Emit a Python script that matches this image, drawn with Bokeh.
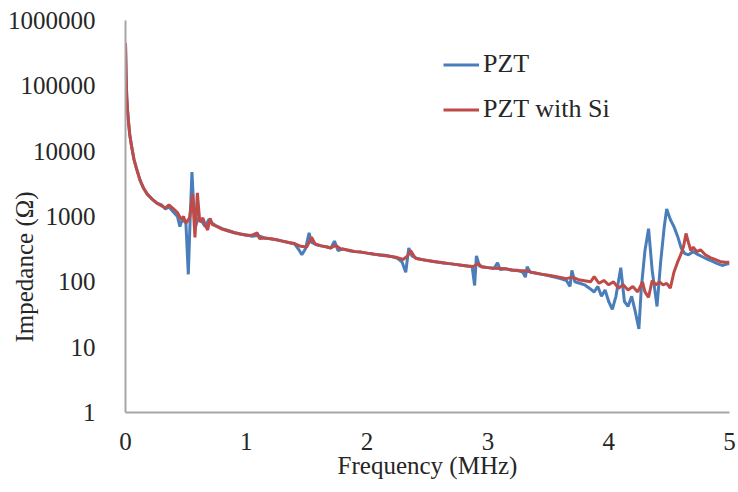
from bokeh.plotting import figure
from bokeh.models import FixedTicker, PrintfTickFormatter, Range1d, Legend, LegendItem, Title
from bokeh.embed import file_html
from bokeh.resources import INLINE

# Frequency (MHz) and impedance (ohm)
pzt_freq = [0.000, 0.005, 0.010, 0.018, 0.025, 0.035, 0.05, 0.07, 0.09, 0.12, 0.15, 0.18,
            0.22, 0.26, 0.30, 0.33, 0.36, 0.40, 0.43, 0.45, 0.47, 0.50, 0.52, 0.535, 0.55,
            0.565, 0.58, 0.60, 0.63, 0.66, 0.69, 0.72, 0.75, 0.80, 0.85, 0.90, 0.95, 1.00,
            1.05, 1.10, 1.15, 1.20, 1.25, 1.30, 1.35, 1.40, 1.44, 1.46, 1.49, 1.52, 1.54,
            1.58, 1.62, 1.66, 1.70, 1.73, 1.76, 1.80, 1.85, 1.90, 1.95, 2.00, 2.05, 2.10,
            2.15, 2.20, 2.25, 2.29, 2.32, 2.345, 2.37, 2.42, 2.48, 2.55, 2.62, 2.68, 2.73,
            2.78, 2.83, 2.87, 2.89, 2.905, 2.93, 2.96, 3.00, 3.05, 3.08, 3.10, 3.15, 3.20,
            3.25, 3.29, 3.31, 3.325, 3.35, 3.40, 3.45, 3.50, 3.55, 3.60, 3.65, 3.68, 3.695,
            3.72, 3.76, 3.80, 3.84, 3.88, 3.91, 3.94, 3.97, 4.00, 4.03, 4.06, 4.10, 4.13,
            4.16, 4.19, 4.22, 4.25, 4.27, 4.30, 4.33, 4.36, 4.40, 4.43, 4.46, 4.48, 4.51,
            4.54, 4.57, 4.60, 4.63, 4.66, 4.70, 4.74, 4.78, 4.82, 4.86, 4.90, 4.94, 4.97, 5.00]
pzt_imp = [450000, 150000, 70000, 40000, 28000, 18000, 12000, 7500, 5500, 3600, 2700, 2200,
           1850, 1600, 1500, 1300, 1400, 1150, 1000, 700, 900, 800, 130, 900, 4800,
           1400, 700, 950, 850, 700, 900, 780, 720, 650, 610, 570, 540, 520,
           500, 510, 470, 455, 440, 420, 400, 380, 300, 260, 320, 560, 400,
           370, 355, 345, 330, 420, 300, 320, 300, 290, 285, 275, 265, 260,
           255, 245, 230, 200, 140, 330, 250, 225, 215, 205, 195, 190, 185,
           180, 175, 170, 88, 250, 175, 170, 165, 160, 195, 155, 158, 150,
           150, 140, 118, 170, 140, 135, 130, 125, 118, 112, 105, 85, 150,
           100, 95, 90, 80, 70, 85, 60, 75, 50, 38, 60, 165, 50,
           42, 60, 35, 19, 80, 300, 650, 150, 42, 200, 700, 1300, 900,
           700, 500, 330, 270, 260, 290, 260, 240, 220, 205, 190, 178, 185, 190]

si_freq = [0.000, 0.005, 0.010, 0.018, 0.025, 0.035, 0.05, 0.07, 0.09, 0.12, 0.15, 0.18,
           0.22, 0.26, 0.30, 0.33, 0.36, 0.40, 0.43, 0.46, 0.48, 0.50, 0.53, 0.555, 0.575,
           0.595, 0.615, 0.64, 0.66, 0.68, 0.70, 0.72, 0.76, 0.80, 0.85, 0.90, 0.95, 1.00,
           1.05, 1.09, 1.11, 1.15, 1.20, 1.25, 1.30, 1.35, 1.40, 1.45, 1.50, 1.54, 1.57,
           1.62, 1.66, 1.70, 1.74, 1.78, 1.85, 1.90, 1.95, 2.00, 2.05, 2.10, 2.15, 2.20,
           2.25, 2.30, 2.335, 2.36, 2.40, 2.45, 2.50, 2.55, 2.62, 2.68, 2.73, 2.78, 2.83,
           2.88, 2.92, 2.95, 3.00, 3.05, 3.10, 3.15, 3.20, 3.25, 3.30, 3.35, 3.40, 3.45,
           3.50, 3.55, 3.60, 3.65, 3.70, 3.75, 3.80, 3.85, 3.88, 3.92, 3.96, 4.00, 4.04,
           4.08, 4.12, 4.16, 4.20, 4.24, 4.28, 4.30, 4.33, 4.36, 4.39, 4.42, 4.45, 4.48,
           4.51, 4.54, 4.57, 4.60, 4.62, 4.64, 4.66, 4.68, 4.70, 4.73, 4.76, 4.80, 4.84,
           4.88, 4.92, 4.96, 5.00]
si_imp = [450000, 150000, 70000, 40000, 28000, 18000, 12000, 7500, 5500, 3600, 2700, 2200,
          1850, 1600, 1450, 1350, 1500, 1300, 1150, 900, 1000, 790, 950, 2200, 480,
          2300, 820, 950, 750, 620, 940, 750, 700, 640, 600, 565, 540, 515,
          520, 560, 460, 470, 455, 440, 420, 400, 385, 350, 340, 480, 380,
          355, 345, 330, 360, 320, 305, 290, 285, 275, 268, 258, 250, 245,
          235, 220, 250, 300, 230, 220, 212, 205, 197, 190, 185, 180, 175,
          172, 190, 168, 165, 162, 160, 158, 152, 148, 148, 142, 136, 130,
          126, 122, 117, 112, 118, 108, 104, 100, 120, 95, 105, 90, 100,
          80, 90, 75, 85, 70, 100, 70, 58, 105, 90, 100, 90, 95,
          80, 140, 200, 270, 350, 550, 400, 300, 340, 290, 310, 260, 235,
          220, 205, 200, 200]

x_ticks = [0, 1, 2, 3, 4, 5]
y_ticks = [1, 10, 100, 1000, 10000, 100000, 1000000]

FONT = "'Liberation Serif', 'Times New Roman', serif"
TEXT = "#262626"

p = figure(width=738, height=492, y_axis_type="log",
           x_range=Range1d(0, 5), y_range=Range1d(1, 1000000),
           output_backend="svg", toolbar_location=None,
           min_border_left=125, min_border_right=9, min_border_top=20, min_border_bottom=80)
p.outline_line_color = None
p.background_fill_color = "white"
p.border_fill_color = "white"
p.grid.visible = False

blue = p.line(pzt_freq, pzt_imp, line_color="#4A7EBB", line_width=3)
red = p.line(si_freq, si_imp, line_color="#BE4B48", line_width=3)

p.xaxis.ticker = FixedTicker(ticks=x_ticks)
p.yaxis.ticker = FixedTicker(ticks=y_ticks)
p.yaxis.formatter = PrintfTickFormatter(format="%d")
for ax in (p.xaxis, p.yaxis):
    ax.axis_line_color = "#A6A6A6"
    ax.axis_line_width = 2
    ax.major_tick_line_color = None
    ax.minor_tick_line_color = None
    ax.major_label_text_font = FONT
    ax.major_label_text_font_size = "25px"
    ax.major_label_text_color = TEXT
    ax.axis_label_text_font = FONT
    ax.axis_label_text_font_size = "25px"
    ax.axis_label_text_color = TEXT
    ax.axis_label_text_font_style = "normal"
p.xaxis.axis_label = "Frequency (MHz)"
p.xaxis.major_label_standoff = 14
p.yaxis.major_label_standoff = 24
p.xaxis.axis_label_standoff = -1

# y-axis title as a left-side title, placed lower than centre as in the reference
ytitle = Title(text="Impedance (Ω)", align="left", offset=70, standoff=-66,
               text_font=FONT, text_font_size="25px", text_color=TEXT,
               text_font_style="normal")
p.add_layout(ytitle, "left")

legend = Legend(items=[LegendItem(label="PZT", renderers=[blue]),
                       LegendItem(label="PZT with Si", renderers=[red])],
                location=(318, 288))
legend.border_line_color = None
legend.background_fill_alpha = 0
legend.padding = 0
legend.margin = 0
legend.spacing = 15
legend.glyph_width = 36
legend.glyph_height = 25
legend.label_height = 25
legend.label_standoff = 4
legend.label_text_font = FONT
legend.label_text_font_size = "26px"
legend.label_text_color = TEXT
p.add_layout(legend)

open("out.html", "w").write(file_html(p, INLINE))
